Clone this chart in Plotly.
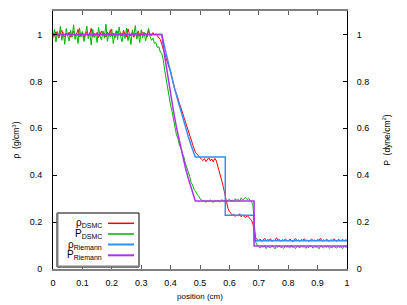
import numpy as np
import plotly.graph_objects as go

# ---------------- data ----------------
# DSMC samples, spacing 0.005 cm starting at 0
rho_dsmc = [
    1.005, 0.992, 1.012, 0.998, 0.985, 1.008, 1.018, 0.995, 0.990, 1.004,
    0.997, 1.010, 0.988, 1.002, 1.015, 0.993, 1.000, 1.022, 0.991, 0.996,
    1.007, 0.986, 1.003, 1.012, 0.995, 0.999, 1.026, 0.990, 1.005, 0.994,
    1.009, 0.987, 1.001, 1.014, 0.996, 1.004, 0.989, 1.011, 0.998, 1.020,
    0.993, 1.006, 0.985, 1.002, 1.013, 0.997, 1.008, 0.992, 1.018, 1.000,
    0.990, 1.024, 1.003, 0.994, 1.010, 0.988, 1.005, 0.999, 1.015, 0.993,
    1.002, 1.011, 0.996, 1.006, 0.989, 1.016, 1.001, 0.995, 1.008, 0.998,
    1.002, 0.995, 0.988, 0.978, 0.958, 0.936, 0.918, 0.893, 0.874, 0.858,
    0.842, 0.812, 0.795, 0.762, 0.748, 0.722, 0.706, 0.688, 0.668, 0.642,
    0.628, 0.603, 0.588, 0.566, 0.548, 0.522, 0.512, 0.496, 0.488, 0.479,
    0.474, 0.468, 0.462, 0.471, 0.458, 0.466, 0.475, 0.461, 0.469, 0.457,
    0.472, 0.463, 0.442, 0.423, 0.401, 0.372, 0.346, 0.312, 0.281, 0.259,
    0.246, 0.236, 0.229, 0.234, 0.224, 0.231, 0.226, 0.236, 0.222, 0.230,
    0.225, 0.219, 0.228, 0.221, 0.214, 0.208, 0.192, 0.162, 0.131, 0.126,
    0.121, 0.128, 0.118, 0.124, 0.131, 0.119, 0.125, 0.122, 0.129, 0.117,
    0.124, 0.120, 0.133, 0.122, 0.126, 0.118, 0.125, 0.121, 0.128, 0.123,
    0.119, 0.127, 0.124, 0.116, 0.125, 0.130, 0.121, 0.123, 0.118, 0.126,
    0.122, 0.129, 0.120, 0.124, 0.117, 0.125, 0.128, 0.121, 0.123, 0.119,
    0.126, 0.122, 0.131, 0.118, 0.124, 0.120, 0.127, 0.123, 0.117, 0.125,
    0.121, 0.129, 0.122, 0.118, 0.126, 0.123, 0.120, 0.127, 0.119, 0.124,
    0.122,
]

p_dsmc = [
    0.985, 1.021, 0.968, 1.012, 0.992, 1.034, 0.975, 1.008, 0.958, 1.025,
    0.995, 0.972, 1.018, 0.988, 1.041, 0.979, 1.005, 0.962, 1.028, 0.990,
    1.013, 0.970, 0.998, 1.036, 0.982, 1.009, 0.955, 1.022, 0.987, 1.003,
    0.966, 1.030, 0.993, 0.976, 1.015, 0.984, 1.044, 0.971, 1.006, 0.989,
    1.024, 0.961, 0.997, 1.017, 0.978, 1.032, 0.991, 0.969, 1.011, 0.983,
    1.027, 0.974, 1.002, 0.957, 1.019, 0.994, 1.038, 0.980, 1.007, 0.965,
    1.020, 0.986, 1.010, 0.973, 0.999, 1.026,
    0.992, 0.975, 0.984, 0.962, 0.966, 0.944, 0.948, 0.925, 0.918, 0.893,
    0.846, 0.806, 0.762, 0.738, 0.698, 0.672, 0.628, 0.604, 0.572, 0.556,
    0.528, 0.516, 0.492, 0.478, 0.452, 0.434, 0.408, 0.394, 0.368, 0.358,
    0.338, 0.332, 0.318, 0.312, 0.299, 0.296,
    0.288, 0.293, 0.284, 0.291, 0.286, 0.295, 0.289, 0.283, 0.292, 0.287,
    0.294, 0.285, 0.290, 0.296, 0.288, 0.293, 0.286, 0.291, 0.298, 0.289,
    0.294, 0.287, 0.300, 0.292, 0.297, 0.290, 0.303, 0.294, 0.299, 0.305,
    0.296, 0.301, 0.293,
    0.288, 0.272, 0.186, 0.112, 0.101,
    0.094, 0.089, 0.098, 0.092, 0.101, 0.087, 0.096, 0.093, 0.090, 0.099,
    0.095, 0.086, 0.097, 0.092, 0.100, 0.091, 0.094, 0.088, 0.098, 0.093,
    0.096, 0.089, 0.102, 0.092, 0.095, 0.087, 0.097, 0.094, 0.090, 0.099,
    0.093, 0.096, 0.088, 0.095, 0.091, 0.100, 0.094, 0.089, 0.097, 0.092,
    0.095, 0.086, 0.098, 0.093, 0.090, 0.096, 0.092, 0.099, 0.088, 0.094,
    0.091, 0.097, 0.093, 0.089, 0.096, 0.092, 0.095, 0.087, 0.098, 0.093,
    0.094,
]

position_rho_dsmc = np.round(np.arange(len(rho_dsmc)) * 0.005, 3)
position_p_dsmc = np.round(np.arange(len(p_dsmc)) * 0.005, 3)

# Riemann (exact) solution
position_riemann = [0.0, 0.37, 0.38, 0.39, 0.40, 0.41, 0.42, 0.43, 0.44,
                    0.45, 0.46, 0.47, 0.484, 0.586, 0.586, 0.684, 0.684, 1.0]
rho_riemann = [1.0, 1.0, 0.944, 0.889, 0.837, 0.787, 0.739, 0.693, 0.648,
               0.606, 0.566, 0.527, 0.477, 0.477, 0.229, 0.229, 0.120, 0.120]
position_p_riemann = [0.0, 0.37, 0.38, 0.39, 0.40, 0.41, 0.42, 0.43, 0.44,
                      0.45, 0.46, 0.47, 0.484, 0.684, 0.684, 1.0]
p_riemann = [1.0, 1.0, 0.907, 0.822, 0.743, 0.671, 0.604, 0.542, 0.486,
             0.434, 0.387, 0.344, 0.290, 0.290, 0.098, 0.098]

x_ticks = [0, 0.1, 0.2, 0.3, 0.4, 0.5, 0.6, 0.7, 0.8, 0.9, 1]
x_tick_labels = ["0", "0.1", "0.2", "0.3", "0.4", "0.5", "0.6", "0.7", "0.8", "0.9", "1"]
y_ticks = [0, 0.2, 0.4, 0.6, 0.8, 1]
y_tick_labels = ["0", "0.2", "0.4", "0.6", "0.8", "1"]

series_names = ["ρ<sub>DSMC</sub>", "P<sub>DSMC</sub>",
                "ρ<sub>Riemann</sub>", "P<sub>Riemann</sub>"]
colors = ["#ff0000", "#00b400", "#2f8fff", "#b030f0"]
widths = [1, 1, 1.5, 1.5]

# ---------------- figure ----------------
FONT = "Liberation Sans, Arial, sans-serif"
fig = go.Figure()
fig.add_trace(go.Scatter(x=position_rho_dsmc, y=rho_dsmc, mode="lines",
                         name=series_names[0], line=dict(color=colors[0], width=widths[0])))
fig.add_trace(go.Scatter(x=position_p_dsmc, y=p_dsmc, mode="lines", yaxis="y2",
                         name=series_names[1], line=dict(color=colors[1], width=widths[1])))
fig.add_trace(go.Scatter(x=position_riemann, y=rho_riemann, mode="lines",
                         name=series_names[2], line=dict(color=colors[2], width=widths[2])))
fig.add_trace(go.Scatter(x=position_p_riemann, y=p_riemann, mode="lines", yaxis="y2",
                         name=series_names[3], line=dict(color=colors[3], width=widths[3])))

axis_font = dict(family=FONT, size=9, color="#000000")
fig.update_layout(
    width=407, height=305,
    margin=dict(l=53, r=60, t=11, b=36, autoexpand=False),
    paper_bgcolor="white", plot_bgcolor="white",
    showlegend=False,
    font=axis_font,
    xaxis=dict(range=[0, 1], tickvals=x_ticks, ticktext=x_tick_labels,
               showgrid=False, zeroline=False, automargin=False,
               showline=True, linecolor="#808080", linewidth=2, mirror="ticks",
               ticks="inside", ticklen=4, tickcolor="#606060", tickwidth=1,
               ticklabelstandoff=4, tickfont=axis_font,
               title=dict(text="position (cm)", font=dict(family=FONT, size=8), standoff=7)),
    yaxis=dict(range=[0, 1.1], tickvals=y_ticks, ticktext=y_tick_labels,
               showgrid=False, zeroline=False, automargin=False,
               showline=True, linecolor="#000000", linewidth=1,
               ticks="inside", ticklen=4, tickcolor="#000000", tickwidth=1,
               ticklabelstandoff=8, tickfont=axis_font,
               title=dict(text="ρ  (g/cm<sup>3</sup>)", font=dict(family=FONT, size=8.5), standoff=8)),
    yaxis2=dict(range=[0, 1.1], tickvals=y_ticks, ticktext=y_tick_labels,
                overlaying="y", side="right",
                showgrid=False, zeroline=False, automargin=False,
                showline=True, linecolor="#000000", linewidth=1,
                ticks="inside", ticklen=4, tickcolor="#000000", tickwidth=1,
                ticklabelstandoff=7, tickfont=axis_font,
                title=dict(text="P  (dyne/cm<sup>2</sup>)", font=dict(family=FONT, size=8.5), standoff=15)),
)

# custom gnuplot-style key (text, then line sample)
def px2x(px):
    return (px - 53) / 294.0

def py2y(py):
    return (269 - py) / 258.0

shapes = [
    dict(type="rect", xref="paper", yref="paper",
         x0=px2x(57), x1=px2x(139), y0=py2y(267), y1=py2y(213),
         line=dict(color="#000000", width=1), fillcolor="white", layer="above"),
    dict(type="line", xref="paper", yref="paper",
         x0=px2x(57.5), x1=px2x(57.5), y0=py2y(267), y1=py2y(213),
         line=dict(color="#808080", width=2), layer="above"),
    dict(type="line", xref="paper", yref="paper",
         x0=px2x(57), x1=px2x(139), y0=py2y(266.5), y1=py2y(266.5),
         line=dict(color="#808080", width=2), layer="above"),
]
annotations = []
rows = [223.3, 234.0, 244.5, 255.3]
for name, col, w, ry in zip(series_names, colors, widths, rows):
    shapes.append(dict(type="line", xref="paper", yref="paper",
                       x0=px2x(108), x1=px2x(134), y0=py2y(ry), y1=py2y(ry),
                       line=dict(color=col, width=w + 0.5), layer="above"))
    annotations.append(dict(xref="paper", yref="paper", x=px2x(104), y=py2y(ry),
                            xanchor="right", yanchor="middle", showarrow=False,
                            text=name, font=dict(family=FONT, size=10, color="#000000")))
fig.update_layout(shapes=shapes, annotations=annotations)

fig.write_html("out.html", config={"displayModeBar": False},
               post_script="document.body.style.margin='0';document.body.style.overflow='hidden';")
